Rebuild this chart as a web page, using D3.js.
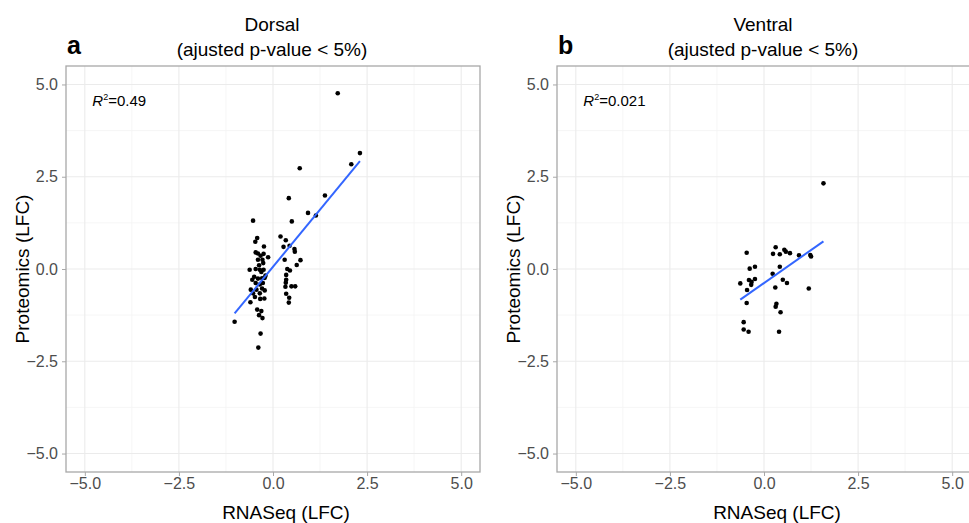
<!DOCTYPE html>
<html>
<head>
<meta charset="utf-8">
<script src="https://cdn.jsdelivr.net/npm/d3@7"></script>
<style>
  body { margin: 0; background: #fff; }
  text { font-family: 'Liberation Sans', Arial, Helvetica, sans-serif; }
</style>
</head>
<body>
<svg id="chart" width="969" height="523"></svg>
<script>
// values (log fold changes)
const dorsalRna = [-0.53, 0.42, 1.38, 0.93, 1.14, 0.50, -0.42, -0.47, -0.24, 0.20, 0.34, 0.44, 0.28, 0.57, 0.58,
  -0.46, -0.40, -0.25, -0.40, -0.28, 0.73, 0.31, 0.63, -0.37, -0.62, -0.46, -0.35, -0.25, 0.38, 0.45,
  0.35, -0.20, -0.50, -0.55, -0.40, -0.29, 0.35, -0.46, -0.35, -0.27, 0.34, 0.33, 0.49, 0.59, -0.59,
  -0.44, -0.29, -0.22, -0.53, -0.35, 0.35, -0.48, -0.34, -0.23, 0.43, -0.60, 0.42, -0.42, -0.31, -0.37,
  -0.28, -1.02, -0.33, -0.39, 1.72, 2.31, 2.08, 0.71, -0.31, -0.22, -0.26, -0.33, -0.13]
const dorsalProt = [1.31, 1.92, 1.99, 1.52, 1.45, 1.29, 0.84, 0.74, 0.61, 0.88, 0.78, 0.63, 0.60, 0.54, 0.47,
  0.45, 0.42, 0.41, 0.25, 0.25, 0.24, 0.25, 0.11, 0.10, -0.02, 0.00, -0.02, -0.02, 0.00, -0.04,
  -0.16, -0.18, -0.21, -0.29, -0.26, -0.25, -0.29, -0.38, -0.42, -0.38, -0.37, -0.48, -0.47, -0.47, -0.56,
  -0.56, -0.53, -0.58, -0.66, -0.66, -0.67, -0.76, -0.81, -0.80, -0.78, -0.90, -0.91, -1.10, -1.14, -1.25,
  -1.33, -1.43, -1.75, -2.13, 4.76, 3.14, 2.84, 2.73, -0.08, -0.24, 0.16, 0.36, 0.32]
const ventralRna = [1.58, -0.46, 0.31, 0.24, 0.42, 0.54, 0.58, 0.69, 0.93, 1.23, 1.25, -0.38, -0.24, 0.42, 0.23,
  -0.63, -0.40, -0.33, -0.24, -0.34, -0.45, 0.50, 0.61, 0.30, 1.19, -0.46, 0.33, 0.31, 0.44, -0.54,
  -0.54, -0.41, 0.40]
const ventralProt = [2.32, 0.44, 0.59, 0.41, 0.40, 0.52, 0.47, 0.43, 0.37, 0.38, 0.34, 0.01, 0.06, 0.06, -0.13,
  -0.39, -0.30, -0.35, -0.27, -0.43, -0.57, -0.29, -0.38, -0.50, -0.53, -0.92, -0.94, -1.02, -1.17, -1.44,
  -1.64, -1.70, -1.70]

const panelTags = ['a', 'b']
const panelTitles = ['Dorsal', 'Ventral']
const subTitle = '(ajusted p-value < 5%)'
const rSquared = ['0.49', '0.021']
const fitSlope = [1.24, 0.715]
const fitIntercept = [0.06, -0.38]
const majorBreaks = [-5, -2.5, 0, 2.5, 5]
const minorBreaks = [-3.75, -1.25, 1.25, 3.75]
const axisDomain = [-5.5, 5.5]

const plotTop = 66
const plotWidth = 414
const plotHeight = 406
const panelLeft = [66, 557]
const lineColor = '#3366FF'
const gridColor = '#ebebeb'
const borderColor = '#a8a8a8'

let svg = d3.select('#chart')
svg.append('rect')
  .attr('width', 969)
  .attr('height', 523)
  .attr('fill', '#fff')

let drawPanel = function (idx, xs, ys) {
  let left = panelLeft[idx]
  let xScale = d3.scaleLinear().domain(axisDomain).range([left, left + plotWidth])
  let yScale = d3.scaleLinear().domain(axisDomain).range([plotTop + plotHeight, plotTop])
  let g = svg.append('g').classed(`panel_${idx}`, true)

  // grid, minor first
  let grid = g.append('g')
  minorBreaks.forEach(v => {
    grid.append('line')
      .attr('x1', xScale(v)).attr('x2', xScale(v))
      .attr('y1', plotTop).attr('y2', plotTop + plotHeight)
      .style('stroke', '#f4f4f4').style('stroke-width', 0.8)
    grid.append('line')
      .attr('y1', yScale(v)).attr('y2', yScale(v))
      .attr('x1', left).attr('x2', left + plotWidth)
      .style('stroke', '#f4f4f4').style('stroke-width', 0.8)
  })
  majorBreaks.forEach(v => {
    grid.append('line')
      .attr('x1', xScale(v)).attr('x2', xScale(v))
      .attr('y1', plotTop).attr('y2', plotTop + plotHeight)
      .style('stroke', gridColor).style('stroke-width', 1.1)
    grid.append('line')
      .attr('y1', yScale(v)).attr('y2', yScale(v))
      .attr('x1', left).attr('x2', left + plotWidth)
      .style('stroke', gridColor).style('stroke-width', 1.1)
  })

  // points
  g.append('g')
    .selectAll('circle')
    .data(xs.map((x, i) => ({'x': x, 'y': ys[i]})))
    .enter()
    .append('circle')
    .attr('cx', d => xScale(d.x))
    .attr('cy', d => yScale(d.y))
    .attr('r', 2.3)
    .style('fill', '#000')

  // linear fit over the range of x
  let ext = d3.extent(xs)
  let fit = ext.map(x => ({'x': x, 'y': fitIntercept[idx] + fitSlope[idx] * x}))
  g.append('path')
    .datum(fit)
    .style('fill', 'none')
    .style('stroke', lineColor)
    .style('stroke-width', 2)
    .attr('d', d3.line().x(d => xScale(d.x)).y(d => yScale(d.y)))

  // panel border
  g.append('rect')
    .attr('x', left)
    .attr('y', plotTop)
    .attr('width', plotWidth)
    .attr('height', plotHeight)
    .style('fill', 'none')
    .style('stroke', borderColor)
    .style('stroke-width', 1.3)

  // axes
  let fmt = d3.format('.1f')
  let xAxis = g.append('g')
    .attr('transform', `translate(0, ${plotTop + plotHeight})`)
    .call(d3.axisBottom(xScale).tickValues(majorBreaks).tickFormat(fmt).tickSize(4).tickPadding(2))
  let yAxis = g.append('g')
    .attr('transform', `translate(${left}, 0)`)
    .call(d3.axisLeft(yScale).tickValues(majorBreaks).tickFormat(fmt).tickSize(4).tickPadding(4))
  ;[xAxis, yAxis].forEach(ax => {
    ax.select('.domain').remove()
    ax.selectAll('line').style('stroke', borderColor)
    ax.selectAll('text')
      .style('font-family', "'Liberation Sans', Arial, sans-serif")
      .style('font-size', '16px')
      .style('fill', '#4d4d4d')
  })

  // axis titles
  g.append('text')
    .attr('x', xScale(0) + 13)
    .attr('y', 519)
    .attr('text-anchor', 'middle')
    .style('font-size', '19px')
    .text('RNASeq (LFC)')
  g.append('text')
    .attr('transform', `translate(${left - 37}, ${yScale(0)}) rotate(-90)`)
    .attr('text-anchor', 'middle')
    .style('font-size', '19px')
    .text('Proteomics (LFC)')

  // titles and tag
  g.append('text')
    .attr('x', xScale(0) - 1)
    .attr('y', 31)
    .attr('text-anchor', 'middle')
    .style('font-size', '19px')
    .text(panelTitles[idx])
  g.append('text')
    .attr('x', xScale(0) - 1)
    .attr('y', 56)
    .attr('text-anchor', 'middle')
    .style('font-size', '19px')
    .text(subTitle)
  g.append('text')
    .attr('x', left + 1)
    .attr('y', 54)
    .style('font-size', '25px')
    .style('font-weight', 'bold')
    .text(panelTags[idx])

  // R squared label
  let r2 = g.append('text')
    .attr('x', xScale(-4.8))
    .attr('y', 106)
    .style('font-size', '15px')
  r2.append('tspan').style('font-style', 'italic').text('R')
  r2.append('tspan').attr('dy', -6).style('font-size', '9px').text('2')
  r2.append('tspan').attr('dy', 6).text('=' + rSquared[idx])
}

drawPanel(0, dorsalRna, dorsalProt)
drawPanel(1, ventralRna, ventralProt)
</script>
</body>
</html>
